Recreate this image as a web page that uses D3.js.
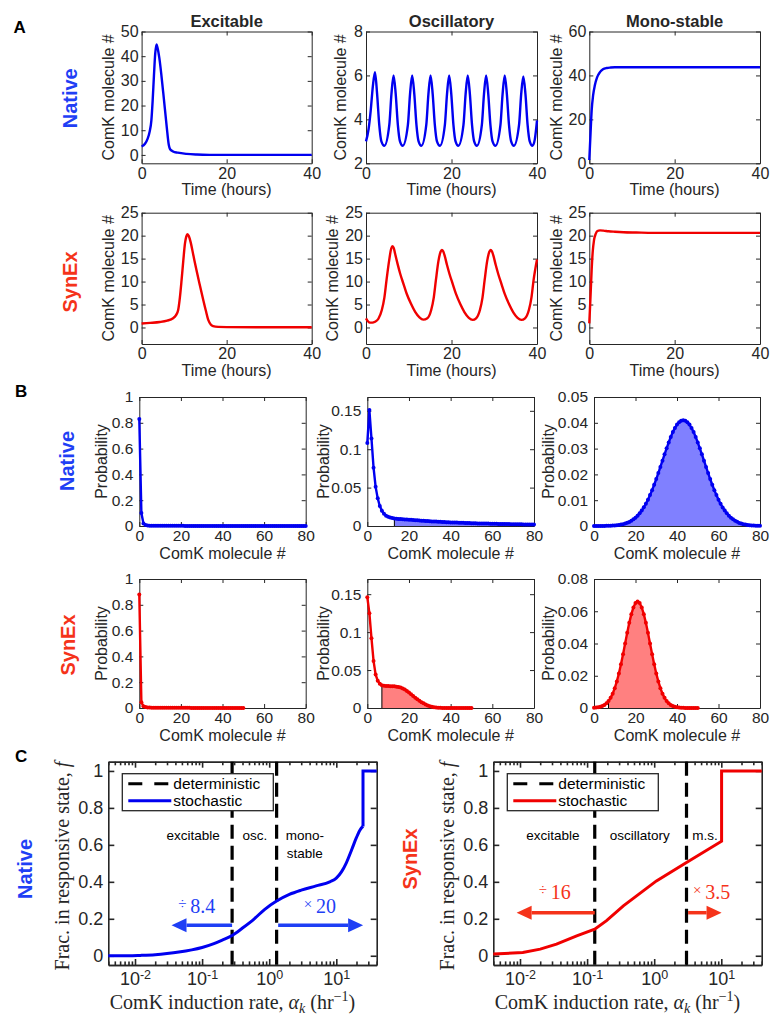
<!DOCTYPE html>
<html>
<head>
<meta charset="utf-8">
<script src="https://cdn.jsdelivr.net/npm/d3@7"></script>
<style>
  body { margin: 0; background: #fff; }
</style>
</head>
<body>
<svg id="fig" width="781" height="1026"></svg>
<script>
// ---------- A: deterministic time courses (hours, ComK molecules) ----------
const aNatExcT = [0, 0.8, 1.4, 1.9, 2.3, 2.6, 2.9, 3.2, 3.5, 3.8, 4.15, 5.1, 5.9, 6.4, 6.7, 7.4, 8.5, 10.6, 13, 16, 20, 40];
const aNatExcV = [3.4, 4.5, 6.5, 9.5, 14, 22, 32, 41, 44.8, 43, 39.5, 25, 11.5, 4, 2.3, 1.4, 0.9, 0.4, 0.15, 0.03, 0, 0];

const aNatOscT = [0, 0.6, 1.1, 1.6, 2.1, 2.6, 3.1, 3.6, 4.3,
  5.45, 5.95, 6.45, 6.95, 7.45, 7.95, 8.6,
  9.8, 10.3, 10.8, 11.3, 11.8, 12.3, 12.95,
  14.1, 14.6, 15.1, 15.6, 16.1, 16.6, 17.3,
  18.45, 18.95, 19.45, 19.95, 20.45, 20.95, 21.6,
  22.8, 23.3, 23.8, 24.3, 24.8, 25.3, 25.95,
  27.1, 27.6, 28.1, 28.6, 29.1, 29.6, 30.3,
  31.45, 31.95, 32.45, 32.95, 33.45, 33.95, 34.6,
  35.8, 36.3, 36.8, 37.3, 37.8, 38.3, 38.95,
  39.5, 40];
const aNatOscV = [3.0, 3.55, 4.4, 5.5, 6.15, 5.15, 3.75, 3.0, 2.8,
  3.75, 5.15, 6.0, 5.15, 3.75, 3.0, 2.8,
  3.75, 5.15, 6.0, 5.15, 3.75, 3.0, 2.8,
  3.75, 5.15, 6.0, 5.15, 3.75, 3.0, 2.8,
  3.75, 5.15, 6.0, 5.15, 3.75, 3.0, 2.8,
  3.75, 5.15, 6.0, 5.15, 3.75, 3.0, 2.8,
  3.75, 5.15, 6.0, 5.15, 3.75, 3.0, 2.8,
  3.75, 5.15, 6.0, 5.15, 3.75, 3.0, 2.8,
  3.75, 5.15, 5.95, 5.15, 3.75, 3.0, 2.8,
  3.1, 3.95];

const aNatMonoT = [0, 0.3, 0.55, 0.9, 1.3, 1.8, 2.5, 3.2, 4.1, 5, 6, 8, 12, 20, 30, 40];
const aNatMonoV = [1.5, 14, 24, 31, 35.5, 39, 41.5, 42.8, 43.4, 43.6, 43.7, 43.7, 43.7, 43.7, 43.7, 43.7];

const aSynExcT = [0, 2, 4.3, 6, 7.4, 8.1, 8.6, 9.0, 9.4, 9.8, 10.2, 10.5, 10.8, 11.1, 11.5, 12.2, 12.9, 13.7, 14.5, 15.1, 15.7, 16.3, 16.8, 18, 20, 30, 40];
const aSynExcV = [0.87, 1.0, 1.2, 1.5, 2.0, 2.7, 3.8, 6.5, 10.3, 14.5, 18.3, 19.8, 20.3, 19.9, 18.7, 15.6, 12.5, 9.2, 6, 3.7, 1.6, 0.6, 0.3, 0.12, 0.08, 0.05, 0.05];

const aSynOscT = [0, 0.5, 0.9, 1.5, 2.1, 2.9, 3.7, 4.3, 4.8, 5.4, 5.9, 6.2, 6.5, 6.8, 7.4, 8.0, 8.8, 9.5, 10.5, 11.5, 12.5, 13.4,
  14.35, 15.25, 15.85, 16.35, 16.95, 17.45, 17.75,
  18.05, 18.35, 18.95, 19.55, 20.35, 21.05, 22.05, 23.05, 24.05, 24.95,
  25.75, 26.65, 27.25, 27.75, 28.35, 28.85, 29.15,
  29.45, 29.75, 30.35, 30.95, 31.75, 32.45, 33.45, 34.45, 35.45, 36.35,
  37.2, 38.1, 38.7, 39.2, 40];
const aSynOscV = [2.0, 1.3, 1.05, 1.05, 1.25, 1.9, 3.8, 6.5, 10.3, 14.5, 17.2, 17.7, 17.3, 16.1, 13.8, 11.7, 9.4, 7.4, 5.2, 3.4, 2.2, 1.7,
  2.0, 3.8, 6.5, 10.3, 14.5, 16.5, 16.9,
  16.6, 15.8, 13.6, 11.6, 9.3, 7.3, 5.1, 3.3, 2.1, 1.65,
  2.0, 3.8, 6.5, 10.3, 14.5, 16.5, 16.9,
  16.6, 15.8, 13.6, 11.6, 9.3, 7.3, 5.1, 3.3, 2.1, 1.65,
  2.0, 3.8, 6.5, 10.3, 14.8];

const aSynMonoT = [0, 0.25, 0.55, 0.8, 1.1, 1.5, 1.9, 2.5, 3.3, 4.5, 6, 8, 11, 15, 20, 30, 40];
const aSynMonoV = [0.9, 6, 12.5, 16.5, 19, 20.4, 21.0, 21.15, 21.1, 20.95, 20.85, 20.75, 20.68, 20.6, 20.6, 20.6, 20.6];

// ---------- B: stationary distributions, P(n) for n = 0,1,2,... ----------
const bNatExc = [0.83, 0.1, 0.02, 0.008, 0.004, 0.0028, 0.0021, 0.0017, 0.0015, 0.0014,
  0.0013, 0.0013, 0.0012, 0.0012, 0.0012, 0.0011, 0.0011, 0.0011, 0.001, 0.001,
  0.001, 0.001, 0.00095, 0.00095, 0.0009, 0.0009, 0.0009, 0.00085, 0.00085, 0.0008,
  0.0008, 0.0008, 0.00075, 0.00075, 0.0007, 0.0007, 0.0007, 0.00065, 0.00065, 0.0006,
  0.0006, 0.0006, 0.00055, 0.00055, 0.00055, 0.0005, 0.0005, 0.0005, 0.00048, 0.00046,
  0.00045, 0.00044, 0.00043, 0.00042, 0.00041, 0.0004, 0.00039, 0.00038, 0.00037, 0.00036,
  0.00035, 0.00034, 0.00033, 0.00032, 0.00031, 0.0003, 0.0003, 0.00029, 0.00028, 0.00028,
  0.00027, 0.00026, 0.00026, 0.00025, 0.00025, 0.00024, 0.00023, 0.00023, 0.00022, 0.00022, 0.00021];
const bNatOsc = [0.108, 0.151, 0.114, 0.076, 0.051, 0.036, 0.026, 0.02, 0.016, 0.0135,
  0.012, 0.011, 0.0103, 0.0098, 0.0095, 0.0092, 0.009, 0.0088, 0.0086, 0.0084,
  0.0082, 0.008, 0.0078, 0.0076, 0.0074, 0.0072, 0.007, 0.0068, 0.0066, 0.0064,
  0.0062, 0.006, 0.0059, 0.0057, 0.0056, 0.0054, 0.0053, 0.0051, 0.005, 0.0049,
  0.0047, 0.0046, 0.0045, 0.0044, 0.0043, 0.0042, 0.0041, 0.004, 0.0039, 0.0038,
  0.0037, 0.0036, 0.0035, 0.0034, 0.0034, 0.0033, 0.0032, 0.0031, 0.0031, 0.003,
  0.0029, 0.0029, 0.0028, 0.0027, 0.0027, 0.0026, 0.0026, 0.0025, 0.0025, 0.0024,
  0.0024, 0.0023, 0.0023, 0.0022, 0.0022, 0.0021, 0.0021, 0.0021, 0.002, 0.002, 0.002];
const bNatMono = [0.00001, 0.00001, 0.00001, 0.00002, 0.00003, 0.00004, 0.00006, 0.00008, 0.00011, 0.00016,
  0.00022, 0.0003, 0.0004, 0.00054, 0.00072, 0.00095, 0.00124, 0.00159, 0.00203, 0.00257,
  0.00323, 0.004, 0.00492, 0.00599, 0.00723, 0.00863, 0.01022, 0.01198, 0.0139, 0.016,
  0.0182, 0.0205, 0.0229, 0.0253, 0.0278, 0.0301, 0.0324, 0.0345, 0.0364, 0.038,
  0.0393, 0.0402, 0.0408, 0.041, 0.0408, 0.0402, 0.0393, 0.038, 0.0364, 0.0345,
  0.0324, 0.0301, 0.0278, 0.0253, 0.0229, 0.0205, 0.0182, 0.016, 0.0139, 0.012,
  0.0102, 0.0086, 0.0072, 0.006, 0.0049, 0.004, 0.0032, 0.0026, 0.002, 0.0016,
  0.0012, 0.00095, 0.00072, 0.00054, 0.0004, 0.0003, 0.00022, 0.00016, 0.00011, 0.00008, 0.00006];
const bSynExc = [0.88, 0.045, 0.014, 0.007, 0.0045, 0.0033, 0.0027, 0.0024, 0.0022, 0.002,
  0.0019, 0.0018, 0.0017, 0.0016, 0.0015, 0.0015, 0.0014, 0.0013, 0.0013, 0.0012,
  0.0012, 0.0011, 0.0011, 0.001, 0.001, 0.00095, 0.0009, 0.00088, 0.00085, 0.00082,
  0.0008, 0.00077, 0.00075, 0.00072, 0.0007, 0.00068, 0.00066, 0.00064, 0.00062, 0.0006,
  0.00058, 0.00056, 0.00054, 0.00052, 0.0005, 0.00048, 0.00046, 0.00044, 0.00042, 0.0004, 0.00038];
const bSynOsc = [0.146, 0.125, 0.092, 0.062, 0.044, 0.036, 0.032, 0.03, 0.0293, 0.029,
  0.0289, 0.0288, 0.0287, 0.0285, 0.0281, 0.0276, 0.027, 0.0258, 0.0243, 0.0224,
  0.0203, 0.018, 0.0158, 0.0136, 0.0115, 0.0095, 0.0077, 0.0061, 0.0047, 0.0034,
  0.0024, 0.0016, 0.001, 0.0006, 0.0004, 0.00025, 0.00015, 0.0001, 0.00006, 0.00004,
  0.00002, 0.00001, 0.00001, 0, 0, 0, 0, 0, 0, 0, 0];
const bSynMono = [0.00014, 0.00025, 0.00044, 0.00073, 0.0012, 0.0019, 0.0029, 0.0043, 0.0063, 0.0089,
  0.0123, 0.0165, 0.0214, 0.0271, 0.0334, 0.04, 0.0466, 0.0528, 0.0582, 0.0624,
  0.0651, 0.066, 0.0651, 0.0624, 0.0582, 0.0528, 0.0466, 0.04, 0.0334, 0.0271,
  0.0214, 0.0165, 0.0123, 0.0089, 0.0063, 0.0043, 0.0029, 0.0019, 0.0012, 0.00073,
  0.00044, 0.00025, 0.00014, 0.00008, 0.00004, 0.00002, 0.00001, 0, 0, 0, 0];
// responsive threshold (molecule #)
const thrNative = 13, thrSynEx = 7;

// ---------- C: fraction in responsive state vs induction rate ----------
const cNatAlpha = [0.004, 0.008, 0.012, 0.02, 0.03, 0.045, 0.07, 0.1, 0.15, 0.2, 0.28, 0.4, 0.6, 0.85, 1.29, 2, 3, 5, 8, 10, 12, 14, 17, 20, 23, 25];
const cNatF     = [0, 0, 0.002, 0.006, 0.012, 0.02, 0.032, 0.045, 0.066, 0.085, 0.11, 0.15, 0.2, 0.25, 0.296, 0.332, 0.355, 0.378, 0.40, 0.42, 0.455, 0.5, 0.575, 0.64, 0.685, 0.70];
const cNatStep  = [[25, 0.70], [25, 1.0], [40, 1.0]];
const cSynAlpha = [0.004, 0.011, 0.02, 0.035, 0.07, 0.13, 0.195, 0.347, 1.08, 3.03, 10.1, 10.1, 40];
const cSynF     = [0.009, 0.018, 0.036, 0.063, 0.108, 0.144, 0.19, 0.27, 0.405, 0.505, 0.62, 1.0, 1.0];
const cNatBif = [0.28, 1.29];     // deterministic boundaries
const cSynBif = [0.13, 3.03];

const BLUE = "#0000f0", RED = "#f00000";
const BLUE_LBL = "#1f3ff5", RED_LBL = "#f5331a";
const BLUE_FILL = "#8080ff", RED_FILL = "#ff8080";
const INK = "#262626";
const SANS = "Liberation Sans, Arial, sans-serif";
const SERIF = "Liberation Serif, Times New Roman, serif";

const svg = d3.select("#fig");

// box = [x0, x1, y0(top), y1(bottom)]
function axes(box, o) {
  const x = (o.log ? d3.scaleLog() : d3.scaleLinear()).domain(o.xd).range([box[0], box[1]]);
  const y = d3.scaleLinear().domain(o.yd).range([box[3], box[2]]);
  const g = svg.append("g");
  const tl = o.tl || 4, lw = o.lw || 1, fs = o.fs || 16;
  const fmt = d3.format("~g");
  const put = (axis, tx, ty) => {
    const a = g.append("g").attr("transform", `translate(${tx},${ty})`).call(axis);
    a.select(".domain").attr("stroke", INK).attr("stroke-width", lw);
    a.selectAll(".tick line").attr("stroke", INK).attr("stroke-width", lw);
    a.selectAll(".tick text").attr("fill", INK).attr("font-size", fs).attr("font-family", SANS);
    return a;
  };
  const bx = put(d3.axisBottom(x).tickValues(o.xt).tickSizeInner(-tl).tickSizeOuter(0)
    .tickPadding(o.xp || 6).tickFormat(o.xf || fmt), 0, box[3]);
  put(d3.axisTop(x).tickValues(o.xt).tickSizeInner(-tl).tickSizeOuter(0).tickFormat(""), 0, box[2]);
  put(d3.axisLeft(y).tickValues(o.yt).tickSizeInner(-tl).tickSizeOuter(0)
    .tickPadding(o.yp || 3).tickFormat(fmt), box[0], 0);
  put(d3.axisRight(y).tickValues(o.yt).tickSizeInner(-tl).tickSizeOuter(0).tickFormat(""), box[1], 0);
  if (o.minor) {
    put(d3.axisBottom(x).tickValues(o.minor).tickSizeInner(-tl * 0.6).tickSizeOuter(0).tickFormat(""), 0, box[3]);
    put(d3.axisTop(x).tickValues(o.minor).tickSizeInner(-tl * 0.6).tickSizeOuter(0).tickFormat(""), 0, box[2]);
  }
  return {g, x, y, bx};
}

function label(txt, x, y, o) {
  o = o || {};
  const t = svg.append("text")
    .attr("transform", `translate(${x},${y})` + (o.rot ? " rotate(-90)" : ""))
    .attr("text-anchor", o.anchor || "middle")
    .attr("dominant-baseline", o.base || "auto")
    .attr("font-family", o.font || SANS)
    .attr("font-size", o.size || 16)
    .attr("font-weight", o.bold ? "bold" : "normal")
    .attr("fill", o.color || INK)
    .text(txt);
  return t;
}

// ---------- panel A ----------
const colA = [[141.6, 311.7], [366, 537], [589.3, 760]];
const rowA = [[31.5, 163.3], [212.7, 344]];
const timeSeries = [
  {r: 0, c: 0, T: aNatExcT, V: aNatExcV, yd: [-3.4, 50], yt: [0, 10, 20, 30, 40, 50], col: BLUE, lx: 108.3},
  {r: 0, c: 1, T: aNatOscT, V: aNatOscV, yd: [2, 8], yt: [2, 4, 6, 8], col: BLUE, lx: 340},
  {r: 0, c: 2, T: aNatMonoT, V: aNatMonoV, yd: [0, 60], yt: [0, 20, 40, 60], col: BLUE, lx: 556.7},
  {r: 1, c: 0, T: aSynExcT, V: aSynExcV, yd: [-3.6, 25], yt: [0, 5, 10, 15, 20, 25], col: RED, lx: 108.3},
  {r: 1, c: 1, T: aSynOscT, V: aSynOscV, yd: [-3.6, 25], yt: [0, 5, 10, 15, 20, 25], col: RED, lx: 332},
  {r: 1, c: 2, T: aSynMonoT, V: aSynMonoV, yd: [-3.6, 25], yt: [0, 5, 10, 15, 20, 25], col: RED, lx: 556.7}
];
timeSeries.forEach(s => {
  const box = [colA[s.c][0], colA[s.c][1], rowA[s.r][0], rowA[s.r][1]];
  const ax = axes(box, {xd: [0, 40], yd: s.yd, xt: [0, 20, 40], yt: s.yt, xp: 4});
  const line = d3.line().x(d => ax.x(d[0])).y(d => ax.y(d[1])).curve(d3.curveMonotoneX);
  ax.g.append("path").datum(s.T.map((t, i) => [t, s.V[i]]))
    .attr("d", line).attr("fill", "none").attr("stroke", s.col).attr("stroke-width", 2.4);
  label("Time (hours)", (box[0] + box[1]) / 2, box[3] + 32);
  label("ComK molecule #", s.lx, (box[2] + box[3]) / 2, {rot: true, base: "central"});
});
["Excitable", "Oscillatory", "Mono-stable"].forEach((t, i) =>
  label(t, (colA[i][0] + colA[i][1]) / 2, 26.5, {bold: true, size: 16.5}));

// ---------- panel B ----------
const colB = [[139.3, 305.7], [367.3, 534], [594, 760]];
const rowB = [[397, 526], [579, 708]];
const dists = [
  {r: 0, c: 0, p: bNatExc, ymax: 1, yt: [0, 0.2, 0.4, 0.6, 0.8, 1], col: BLUE, fill: BLUE_FILL, thr: thrNative, lx: 101.7},
  {r: 0, c: 1, p: bNatOsc, ymax: 0.168, yt: [0, 0.05, 0.1, 0.15], col: BLUE, fill: BLUE_FILL, thr: thrNative, lx: 323.3},
  {r: 0, c: 2, p: bNatMono, ymax: 0.05, yt: [0, 0.01, 0.02, 0.03, 0.04, 0.05], col: BLUE, fill: BLUE_FILL, thr: thrNative, lx: 548.3},
  {r: 1, c: 0, p: bSynExc, ymax: 1, yt: [0, 0.2, 0.4, 0.6, 0.8, 1], col: RED, fill: RED_FILL, thr: thrSynEx, lx: 101.7},
  {r: 1, c: 1, p: bSynOsc, ymax: 0.17, yt: [0, 0.05, 0.1, 0.15], col: RED, fill: RED_FILL, thr: thrSynEx, lx: 323.3},
  {r: 1, c: 2, p: bSynMono, ymax: 0.08, yt: [0, 0.02, 0.04, 0.06, 0.08], col: RED, fill: RED_FILL, thr: thrSynEx, lx: 548.3}
];
dists.forEach(s => {
  const box = [colB[s.c][0], colB[s.c][1], rowB[s.r][0], rowB[s.r][1]];
  const ax = axes(box, {xd: [0, 80], yd: [0, s.ymax], xt: [0, 20, 40, 60, 80], yt: s.yt, fs: 15.5, xp: 4, yp: 6});
  const pts = s.p.map((v, i) => [i, v]);
  const area = d3.area().x(d => ax.x(d[0])).y0(ax.y(0)).y1(d => ax.y(d[1]));
  ax.g.append("path").datum(pts.filter(d => d[0] >= s.thr)).attr("d", area).attr("fill", s.fill);
  ax.g.append("line")
    .attr("x1", ax.x(s.thr)).attr("x2", ax.x(s.thr))
    .attr("y1", ax.y(0)).attr("y2", ax.y(s.p[s.thr]))
    .attr("stroke", "#000").attr("stroke-width", 1);
  ax.g.append("path").datum(pts)
    .attr("d", d3.line().x(d => ax.x(d[0])).y(d => ax.y(d[1])))
    .attr("fill", "none").attr("stroke", s.col).attr("stroke-width", 2.4);
  ax.g.append("g").selectAll("circle").data(pts).join("circle")
    .attr("cx", d => ax.x(d[0])).attr("cy", d => ax.y(d[1])).attr("r", 2).attr("fill", s.col);
  label("ComK molecule #", (box[0] + box[1]) / 2, box[3] + 33);
  label("Probability", s.lx, (box[2] + box[3]) / 2, {rot: true, base: "central"});
});

// ---------- panel C ----------
const colC = [[108.3, 376.7], [493.3, 761.7]];
const rowC = [761.7, 965];
const minorC = [];
[0.001, 0.01, 0.1, 1, 10].forEach(d => { for (let k = 2; k <= 9; k++) { const v = d * k; if (v >= 0.004 && v <= 40) minorC.push(v); } });
const cPanels = [
  {c: 0, alpha: cNatAlpha, f: cNatF, step: cNatStep, bif: cNatBif, col: BLUE, lbl: BLUE_LBL, lx: 61.7,
   regions: [["excitable", 0.0736, 0.65], ["osc.", 0.61, 0.65], ["mono-", 3.4, 0.65], ["stable", 3.4, 0.554]],
   arrows: [[0.28, 0.035, 0.165], [1.36, 25.1, 0.165]],
   notes: [["÷", "8.4", 0.083, 0.27], ["×", "20", 5.7, 0.27]]},
  {c: 1, alpha: cSynAlpha, f: cSynF, step: null, bif: cSynBif, col: RED, lbl: RED_LBL, lx: 446.7,
   regions: [["excitable", 0.031, 0.65], ["oscillatory", 0.61, 0.65], ["m.s.", 5.7, 0.65]],
   arrows: [[0.13, 0.0089, 0.233], [3.2, 10.1, 0.233]],
   notes: [["÷", "16", 0.033, 0.345], ["×", "3.5", 7.2, 0.345]]}
];
cPanels.forEach(s => {
  const box = [colC[s.c][0], colC[s.c][1], rowC[0], rowC[1]];
  const ax = axes(box, {log: true, xd: [0.004, 40], yd: [-0.05, 1.05], xt: [0.01, 0.1, 1, 10],
    yt: [0, 0.2, 0.4, 0.6, 0.8, 1], tl: 6, lw: 1.6, fs: 18, xp: 7, yp: 5, minor: minorC, xf: d => d});
  // 10^k labels
  ax.bx.selectAll(".tick text").each(function(d) {
    const t = d3.select(this).text(null);
    t.append("tspan").text("10");
    t.append("tspan").attr("dy", "-0.45em").attr("font-size", 12.5).text(String(Math.round(Math.log10(d))));
  });
  // deterministic boundaries
  s.bif.forEach(b => ax.g.append("line")
    .attr("x1", ax.x(b)).attr("x2", ax.x(b)).attr("y1", box[2]).attr("y2", box[3])
    .attr("stroke", "#000").attr("stroke-width", 3.2).attr("stroke-dasharray", "14,7"));
  // regime names
  s.regions.forEach(r => ax.g.append("text").attr("x", ax.x(r[1])).attr("y", ax.y(r[2]))
    .attr("text-anchor", "middle").attr("dominant-baseline", "central")
    .attr("font-family", SANS).attr("font-size", 13.5).attr("fill", "#000").text(r[0]));
  // stochastic curve
  const pts = s.alpha.map((a, i) => [a, s.f[i]]);
  const ln = d3.line().x(d => ax.x(d[0])).y(d => ax.y(d[1]));
  ax.g.append("path").datum(pts).attr("d", s.step ? ln.curve(d3.curveMonotoneX)(pts) : ln(pts))
    .attr("fill", "none").attr("stroke", s.col).attr("stroke-width", 3);
  if (s.step) ax.g.append("path").attr("d", d3.line().x(d => ax.x(d[0])).y(d => ax.y(d[1])).curve(d3.curveLinear)(s.step))
    .attr("fill", "none").attr("stroke", s.col).attr("stroke-width", 3);
  // arrows
  s.arrows.forEach(a => {
    const x0 = ax.x(a[0]), x1 = ax.x(a[1]), yy = ax.y(a[2]);
    const dir = Math.sign(x1 - x0), hl = 15, hw = 7;
    ax.g.append("line").attr("x1", x0).attr("x2", x1 - dir * hl).attr("y1", yy).attr("y2", yy)
      .attr("stroke", s.lbl).attr("stroke-width", 3.5);
    ax.g.append("path").attr("d", `M${x1},${yy}L${x1 - dir * hl},${yy - hw}L${x1 - dir * hl},${yy + hw}Z`)
      .attr("fill", s.lbl);
  });
  s.notes.forEach(n => {
    const t = ax.g.append("text").attr("x", ax.x(n[2])).attr("y", ax.y(n[3]))
      .attr("text-anchor", "middle").attr("dominant-baseline", "central")
      .attr("font-family", SERIF).attr("fill", s.lbl);
    t.append("tspan").attr("font-size", 15).attr("dy", "-2").text(n[0] + " ");
    t.append("tspan").attr("font-size", 20).attr("dy", "2").text(n[1]);
  });
  // legend
  const lg = ax.g.append("g").attr("transform", `translate(${box[0] + 14},${box[2] + 12})`);
  lg.append("rect").attr("width", 151).attr("height", 37).attr("fill", "#fff").attr("stroke", INK).attr("stroke-width", 1.3);
  lg.append("line").attr("x1", 6).attr("x2", 49).attr("y1", 10).attr("y2", 10)
    .attr("stroke", "#000").attr("stroke-width", 3).attr("stroke-dasharray", "14,12");
  lg.append("line").attr("x1", 6).attr("x2", 49).attr("y1", 27).attr("y2", 27)
    .attr("stroke", s.col).attr("stroke-width", 3);
  [["deterministic", 10], ["stochastic", 27]].forEach(e => lg.append("text")
    .attr("x", 51).attr("y", e[1]).attr("dominant-baseline", "central")
    .attr("font-family", SANS).attr("font-size", 15.5).attr("fill", "#000").text(e[0]));
  // axis labels
  const xl = svg.append("text").attr("x", (box[0] + box[1]) / 2 - 10).attr("y", 1009)
    .attr("text-anchor", "middle").attr("font-family", SERIF).attr("font-size", 20).attr("fill", INK);
  xl.append("tspan").text("ComK induction rate, ");
  xl.append("tspan").attr("font-style", "italic").text("α");
  xl.append("tspan").attr("font-style", "italic").attr("font-size", 14).attr("dy", 4).text("k");
  xl.append("tspan").attr("dy", -4).text(" (hr");
  xl.append("tspan").attr("font-size", 14).attr("dy", -8).text("−1");
  xl.append("tspan").attr("dy", 8).text(")");
  const yl = svg.append("text").attr("transform", `translate(${s.lx},866) rotate(-90)`)
    .attr("text-anchor", "middle").attr("dominant-baseline", "central")
    .attr("font-family", SERIF).attr("font-size", 20).attr("fill", INK);
  yl.append("tspan").text("Frac. in responsive state, ");
  yl.append("tspan").attr("font-style", "italic").text("f");
});

// ---------- row labels and panel letters ----------
[["Native", 70, 98.3, BLUE_LBL], ["SynEx", 70, 282, RED_LBL],
 ["Native", 66.7, 461, BLUE_LBL], ["SynEx", 67.5, 645, RED_LBL],
 ["Native", 25, 869, BLUE_LBL], ["SynEx", 410, 859, RED_LBL]]
  .forEach(r => label(r[0], r[1], r[2], {rot: true, bold: true, size: 20, color: r[3], base: "central"}));
[["A", 13.5, 32.7], ["B", 15, 397.3], ["C", 15, 761.7]]
  .forEach(l => label(l[0], l[1], l[2], {bold: true, size: 17, anchor: "start", color: "#000"}));
</script>
</body>
</html>
